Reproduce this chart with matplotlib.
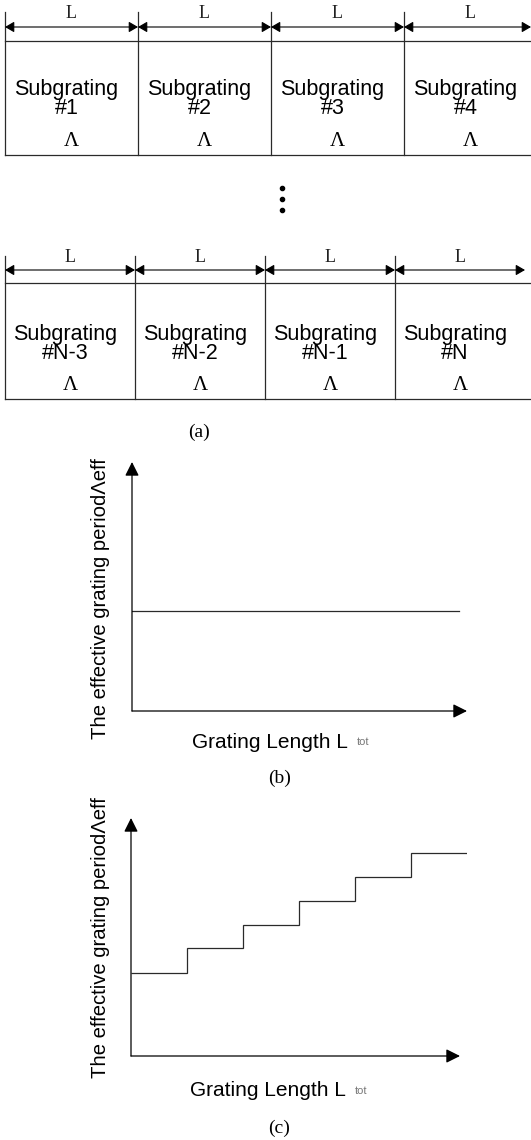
import numpy as np
import matplotlib
matplotlib.use("Agg")
import matplotlib.pyplot as plt

W, H = 531, 1140

# subgrating labels for the two rows of the concatenated grating
row_top = ["#1", "#2", "#3", "#4"]
row_bottom = ["#N-3", "#N-2", "#N-1", "#N"]

# (b) uniform grating: constant effective period over the length
len_b = [0.0, 5.85]
lam_b = [4.0, 4.0]

# (c) stepped grating: one period step per subgrating section
edges_c = [0, 1, 2, 3, 4, 5, 6]
lam_c = [3.45, 4.5, 5.45, 6.45, 7.45, 8.45]

LC = "#2a2a2a"
SANS = "Liberation Sans"
SERIF = "Liberation Serif"

fig = plt.figure(figsize=(W / 100, H / 100), dpi=100)


def fx(x):
    return x / W


def fy(y):
    return 1 - y / H


# ---- (a) row diagram, drawn in pixel units ----
axa = fig.add_axes([0, 0, 1, 1])
axa.set_xlim(0, W)
axa.set_ylim(H, 0)
axa.axis("off")


def draw_row(labels, x0, cw, y_ext, y_dim, y_top, y_bot, y_L, y_name, spacing, y_lam, x_end):
    xs = [x0 + i * cw for i in range(len(labels) + 1)]
    # the far right boundary is cut off by the page edge
    for x in xs[:-1]:
        axa.plot([x, x], [y_ext, y_bot], color=LC, lw=0.9)
    axa.plot([x0, W], [y_top, y_top], color=LC, lw=0.9)
    axa.plot([x0, W], [y_bot, y_bot], color=LC, lw=0.9)
    for i, lab in enumerate(labels):
        a, b = xs[i], min(xs[i + 1], x_end)
        c = (xs[i] + xs[i + 1]) / 2
        axa.annotate("", xy=(b, y_dim), xytext=(a, y_dim),
                     arrowprops=dict(arrowstyle="<|-|>,head_length=0.55,head_width=0.32",
                                     mutation_scale=10, color="black", lw=0.8,
                                     shrinkA=0, shrinkB=0))
        axa.text(c, y_L, "L", ha="center", va="center", family=SERIF, fontsize=13, color="#222")
        axa.text(c - 5, y_name, "Subgrating\n" + lab, ha="center", va="center",
                 multialignment="center", linespacing=spacing, family=SANS, fontsize=15.5)
        axa.text(c, y_lam, "Λ", ha="center", va="center", family=SERIF, fontsize=15)


draw_row(row_top, 5, 133, 12, 27, 41, 155, 13, 99, 0.92, 142, W)
draw_row(row_bottom, 5, 130, 256, 270, 283, 399, 257, 344, 0.82, 385, 525)

# vertical ellipsis between the rows
axa.plot([282, 282, 282], [188, 199, 210], "o", color="black", ms=3)
axa.text(199, 432, "(a)", ha="center", va="center", family=SERIF, fontsize=14)


def make_axes(x0, y0, x1, y1):
    ax = fig.add_axes([fx(x0), fy(y0), fx(x1) - fx(x0), fy(y1) - fy(y0)])
    for s in ax.spines.values():
        s.set_visible(False)
    ax.set_xticks([])
    ax.set_yticks([])
    ax.patch.set_alpha(0)
    return ax


def axis_arrows(ax, xtip):
    style = "-|>,head_length=0.6,head_width=0.3"
    ax.annotate("", xy=(xtip, 0), xytext=(0, 0), xycoords="axes fraction",
                arrowprops=dict(arrowstyle=style, mutation_scale=14, color="black",
                                lw=0.9, shrinkA=0, shrinkB=0))
    ax.annotate("", xy=(0, 1), xytext=(0, 0), xycoords="axes fraction",
                arrowprops=dict(arrowstyle=style, mutation_scale=14, color="black",
                                lw=0.9, shrinkA=0, shrinkB=0))


def axis_labels(yl_x, yl_y, xl_x, xl_y):
    fig.text(fx(yl_x), fy(yl_y), "The effective grating periodΛeff", rotation=90,
             rotation_mode="anchor", ha="left", va="center", family=SANS, fontsize=14.6)
    fig.text(fx(xl_x), fy(xl_y), "Grating Length L", ha="left", va="center",
             family=SANS, fontsize=15)
    fig.text(fx(xl_x + 165), fy(xl_y), "tot", ha="left", va="center",
             family=SANS, fontsize=8, color="#777")


# ---- (b) ----
axb = make_axes(132, 711, 467, 462)
axb.set_xlim(0, 6.0)
axb.set_ylim(0, 10)
axb.plot(len_b, lam_b, color=LC, lw=0.9)
axis_arrows(axb, 1.0)
axis_labels(100, 739, 192, 742)
fig.text(fx(280), fy(778), "(b)", ha="center", va="center", family=SERIF, fontsize=14)

# ---- (c) ----
axc = make_axes(131, 1056, 467, 818)
axc.set_xlim(0, 6.0)
axc.set_ylim(0, 9.9)
axc.stairs(lam_c, edges_c, baseline=None, color=LC, lw=0.9)
axis_arrows(axc, (460 - 131) / (467 - 131))
axis_labels(100, 1078, 190, 1091)
fig.text(fx(279), fy(1128), "(c)", ha="center", va="center", family=SERIF, fontsize=14)

fig.savefig("out.png", dpi=100)
